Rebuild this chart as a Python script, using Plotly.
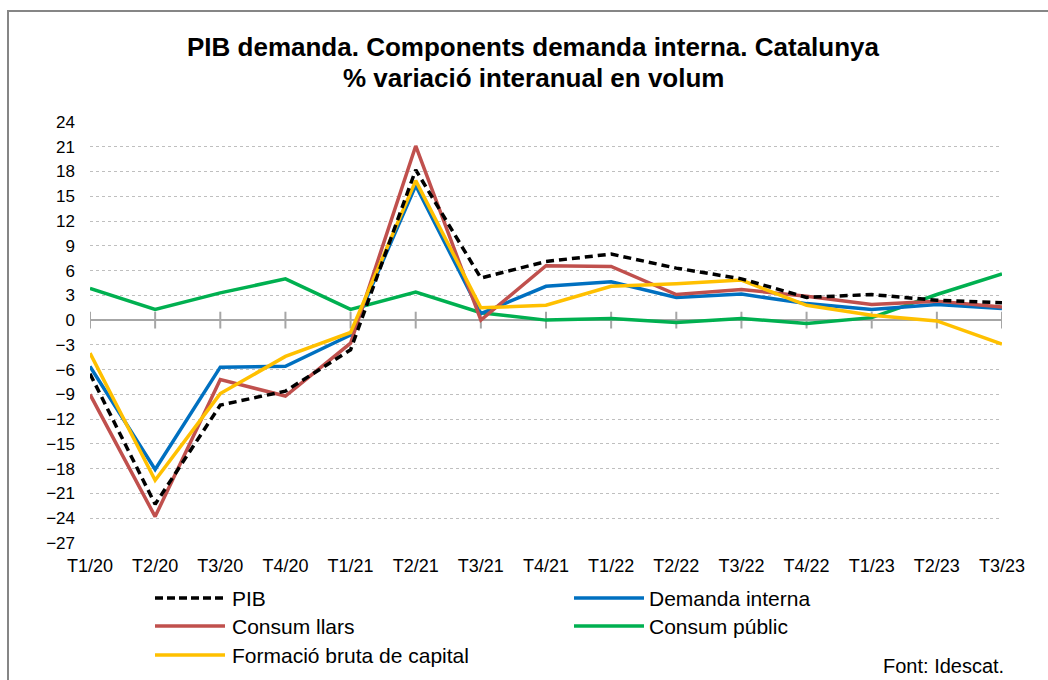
import plotly.graph_objects as go

categories = ["T1/20", "T2/20", "T3/20", "T4/20", "T1/21", "T2/21", "T3/21", "T4/21",
              "T1/22", "T2/22", "T3/22", "T4/22", "T1/23", "T2/23", "T3/23"]

pib = [-6.5, -22.3, -10.3, -8.6, -3.6, 18.2, 5.1, 7.1, 8.0, 6.3, 5.0, 2.75, 3.1, 2.4, 2.1]
demanda_interna = [-5.6, -18.1, -5.7, -5.6, -1.8, 16.3, 0.8, 4.1, 4.65, 2.75, 3.15, 2.0, 1.3, 1.9, 1.4]
consum_llars = [-9.0, -23.8, -7.2, -9.2, -2.8, 21.1, 0.0, 6.6, 6.5, 3.1, 3.7, 2.9, 1.9, 2.3, 1.6]
consum_public = [3.85, 1.3, 3.3, 5.0, 1.3, 3.4, 0.9, 0.0, 0.2, -0.3, 0.2, -0.4, 0.3, 3.1, 5.6]
fbc = [-4.0, -19.4, -8.9, -4.4, -1.5, 16.9, 1.5, 1.8, 4.1, 4.4, 4.85, 1.8, 0.6, -0.1, -2.9]

series_names = ["PIB", "Demanda interna", "Consum llars", "Consum públic", "Formació bruta de capital"]
series_values = [pib, demanda_interna, consum_llars, consum_public, fbc]
series_colors = ["#000000", "#0070C0", "#C0504D", "#00B050", "#FFC000"]
series_dash = ["8px,5px", "solid", "solid", "solid", "solid"]

title_lines = ["PIB demanda. Components demanda interna. Catalunya",
               "% variació interanual en volum"]
source_text = "Font: Idescat."

y_ticks = list(range(-27, 25, 3))

FONT = "Liberation Sans, Arial, sans-serif"
W, H = 1048, 680
L, R, T, B = 90, 46, 122, 137
PW, PH = W - L - R, H - T - B


def px_x(p):
    return (p - L) / PW


def px_y(p):
    return (H - B - p) / PH


fig = go.Figure()

# tick marks on the zero (category) axis line
fig.add_trace(go.Scatter(
    x=categories, y=[0] * len(categories), mode="markers",
    marker=dict(symbol="line-ns", size=12, line=dict(color="#A6A6A6", width=2)),
    showlegend=False, hoverinfo="skip"))

# draw order: green, blue, red, yellow, PIB on top
order = [3, 1, 2, 4, 0]
for i in order:
    fig.add_trace(go.Scatter(
        x=categories, y=series_values[i], mode="lines", name=series_names[i],
        line=dict(color=series_colors[i], width=3.5, dash=series_dash[i]),
        showlegend=False))

shapes = []
annotations = []

# title as two centred lines
for txt, yy in zip(title_lines, [47, 78]):
    annotations.append(dict(xref="paper", yref="paper", x=px_x(533), y=px_y(yy),
                            xanchor="center", yanchor="middle", showarrow=False,
                            text="<b>" + txt + "</b>",
                            font=dict(family=FONT, size=26, color="#000000")))

# manual legend (two columns)
legend_pos = [(155, 225, 230, 598), (574, 644, 647, 598),
              (155, 225, 230, 626), (574, 644, 647, 626),
              (155, 225, 230, 655)]
for i, (x0, x1, xt, yy) in enumerate(legend_pos):
    shapes.append(dict(type="line", xref="paper", yref="paper",
                       x0=px_x(x0), x1=px_x(x1), y0=px_y(yy), y1=px_y(yy),
                       line=dict(color=series_colors[i], width=3.5,
                                 dash="8px,4px" if series_dash[i] != "solid" else "solid")))
    annotations.append(dict(xref="paper", yref="paper", x=px_x(xt), y=px_y(yy),
                            xanchor="left", yanchor="middle", showarrow=False,
                            text=series_names[i], font=dict(family=FONT, size=21, color="#000000")))

annotations.append(dict(xref="paper", yref="paper", x=px_x(1006), y=px_y(666),
                        xanchor="right", yanchor="middle", showarrow=False,
                        text=source_text, font=dict(family=FONT, size=20, color="#000000")))

# outer chart border
shapes.append(dict(type="rect", xref="paper", yref="paper",
                   x0=px_x(8), x1=px_x(1070), y0=px_y(700), y1=px_y(11),
                   line=dict(color="#868686", width=2), layer="below"))

fig.update_layout(
    width=W, height=H,
    margin=dict(l=L, r=R, t=T, b=B),
    paper_bgcolor="white", plot_bgcolor="white",
    font=dict(family=FONT, size=18, color="#000000"),
    showlegend=False,
    shapes=shapes,
    annotations=annotations,
)

fig.update_xaxes(type="category", range=[0, len(categories) - 1],
                 showgrid=False, zeroline=False, showline=False, ticks="",
                 ticklabelstandoff=10, tickfont=dict(family=FONT, size=18))
fig.update_yaxes(range=[-27, 24], tickvals=y_ticks, showgrid=True,
                 gridcolor="#BFBFBF", griddash="dot", gridwidth=1,
                 zeroline=True, zerolinecolor="#A6A6A6", zerolinewidth=2,
                 showline=False, ticks="", ticklabelstandoff=14,
                 tickfont=dict(family=FONT, size=17))

fig.write_html("out.html", config={"displayModeBar": False},
               post_script="document.body.style.margin='0';document.body.style.padding='0';")
